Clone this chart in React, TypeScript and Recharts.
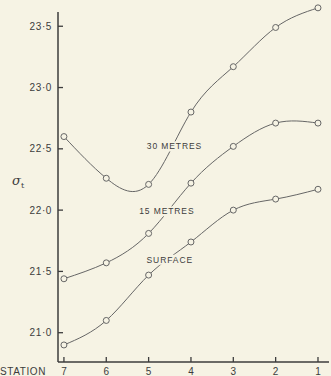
import { LineChart, Line, XAxis, YAxis, ReferenceLine, ReferenceDot } from 'recharts';

const BG = '#f6f3e4';
const INK = '#3c3c3c';
const CURVE = '#666';
const FONT = '"Liberation Sans", Arial, sans-serif';

// stations run 7 -> 1 along the section
const stations = [7, 6, 5, 4, 3, 2, 1];
const surface = [20.9, 21.1, 21.47, 21.74, 22.0, 22.09, 22.17];
const metres15 = [21.44, 21.57, 21.81, 22.22, 22.52, 22.71, 22.71];
const metres30 = [22.6, 22.26, 22.21, 22.8, 23.17, 23.49, 23.65];

const yTicks = [21, 21.5, 22, 22.5, 23, 23.5];

// curve labels placed in data units
const curveLabels = [
  { text: '30 METRES', station: 4.39, value: 22.52 },
  { text: '15 METRES', station: 4.57, value: 21.99 },
  { text: 'SURFACE', station: 4.5, value: 21.595 },
];

const X_DOMAIN: [number, number] = [0.74, 7.14];
const Y_DOMAIN: [number, number] = [20.761, 23.657];
const Y_AXIS_TOP = 23.617;

const data = stations.map((s, i) => ({
  station: s,
  surface: surface[i],
  m15: metres15[i],
  m30: metres30[i],
}));

const fmt = (v: number) => v.toFixed(1).replace('.', '·');

const YTick = ({ x, y, payload }: any) => (
  <g>
    <line x1={x} x2={x + 5} y1={y} y2={y} stroke={INK} strokeWidth={1.3} />
    <text x={x - 6} y={y} dy={3.5} textAnchor="end" fontSize={10} fill={INK} fontFamily={FONT} letterSpacing={0.6}>
      {fmt(payload.value)}
    </text>
  </g>
);

const XTick = ({ x, y, payload }: any) => (
  <g>
    <line x1={x} x2={x} y1={y} y2={y - 5} stroke={INK} strokeWidth={1.3} />
    <text x={x} y={y + 13} textAnchor="middle" fontSize={10} fill={INK} fontFamily={FONT}>
      {payload.value}
    </text>
  </g>
);

const dot = { r: 3, fill: BG, stroke: CURVE, strokeWidth: 1 };

export default function App() {
  return (
    <div style={{ position: 'absolute', left: 0, top: 0, width: 331, height: 376, background: BG }}>
      <LineChart width={331} height={376} data={data} margin={{ top: 7, right: 2, bottom: 0, left: 0 }}>
        <XAxis
          dataKey="station"
          type="number"
          domain={X_DOMAIN}
          reversed
          ticks={stations}
          height={14}
          tickSize={0}
          tickMargin={0}
          tick={<XTick />}
          axisLine={{ stroke: INK, strokeWidth: 1.5 }}
          label={{
            content: (p: any) => (
              <text x={p.viewBox.x - 58} y={p.viewBox.y + 13} fontSize={10} fill={INK} fontFamily={FONT} letterSpacing={0.6}>
                STATION
              </text>
            ),
          }}
        />
        <YAxis
          type="number"
          domain={Y_DOMAIN}
          ticks={yTicks}
          width={58}
          tickSize={0}
          tickMargin={0}
          tick={<YTick />}
          axisLine={false}
          label={{
            content: (p: any) => (
              <text x={p.viewBox.x + 12} y={p.viewBox.y + p.viewBox.height / 2} fontSize={13} fill={INK} fontFamily="'DejaVu Serif', serif" fontStyle="italic">
                σ<tspan fontSize={8} dy={3} fontStyle="normal">t</tspan>
              </text>
            ),
          }}
        />
        <ReferenceLine
          segment={[{ x: X_DOMAIN[1], y: Y_DOMAIN[0] }, { x: X_DOMAIN[1], y: Y_AXIS_TOP }]}
          stroke={INK}
          strokeWidth={1.5}
          ifOverflow="visible"
        />
        <Line type="natural" dataKey="m30" stroke={CURVE} strokeWidth={1} dot={dot} isAnimationActive={false} />
        <Line type="natural" dataKey="m15" stroke={CURVE} strokeWidth={1} dot={dot} isAnimationActive={false} />
        <Line type="natural" dataKey="surface" stroke={CURVE} strokeWidth={1} dot={dot} isAnimationActive={false} />
        {curveLabels.map((l) => (
          <ReferenceDot
            key={l.text}
            x={l.station}
            y={l.value}
            r={0}
            ifOverflow="visible"
            shape={(p: any) => (
              <g>
                <rect x={p.cx - l.text.length * 3.3} y={p.cy - 5} width={l.text.length * 6.6} height={10} fill={BG} />
                <text x={p.cx} y={p.cy} dy={3} textAnchor="middle" fontSize={8.5} fill={INK} fontFamily={FONT} letterSpacing={0.9}>
                  {l.text}
                </text>
              </g>
            )}
          />
        ))}
      </LineChart>
    </div>
  );
}
